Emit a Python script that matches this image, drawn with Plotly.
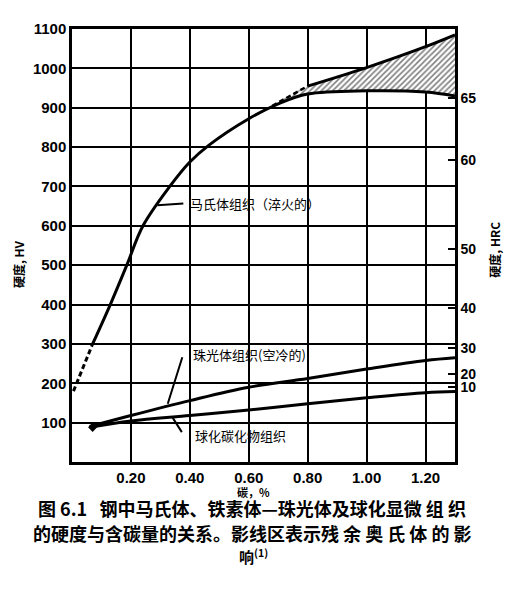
import plotly.graph_objects as go

# 马氏体组织（淬火的）
mart_x = [0.07, 0.13, 0.186, 0.241, 0.332, 0.40, 0.465, 0.60, 0.70, 0.80, 1.00, 1.20, 1.30]
mart_hv = [300, 400, 500, 600, 700, 762, 805, 872, 910, 935, 943, 940, 930]
mart_dash_x = [0.005, 0.07]
mart_dash_hv = [180, 300]

# 残余奥氏体影线区的上边界
upper_dash_x = [0.68, 0.80]
upper_dash_hv = [905, 955]
upper_x = [0.80, 1.00, 1.20, 1.30]
upper_hv = [955, 1002, 1055, 1085]

# 珠光体组织（空冷的）
pearl_x = [0.06, 0.20, 0.40, 0.60, 0.80, 1.00, 1.20, 1.30]
pearl_hv = [90, 118, 156, 190, 212, 236, 258, 265]

# 球化碳化物组织
sphe_x = [0.06, 0.20, 0.40, 0.60, 0.80, 1.00, 1.20, 1.30]
sphe_hv = [88, 104, 118, 132, 148, 163, 176, 179]

# 右侧 HRC 刻度
hrc_labels = ["10", "20", "30", "40", "50", "60", "65"]
hrc_hv = [191, 224, 289, 390, 540, 766, 925]

x_ticks = [0.2, 0.4, 0.6, 0.8, 1.0, 1.2]
hv_ticks = [100, 200, 300, 400, 500, 600, 700, 800, 900, 1000, 1100]

FONT = "Liberation Sans, Noto Sans CJK SC"
CJK = "Noto Sans CJK SC"
line = dict(color="black", width=3, shape="spline", smoothing=1.0)

fig = go.Figure()

# hatched area: lower boundary first, then upper with tonexty
hx = [x for x in mart_x if x >= 0.68]
hy = [h for x, h in zip(mart_x, mart_hv) if x >= 0.68]
fig.add_trace(go.Scatter(x=[0.68] + hx, y=[905] + hy, mode="lines",
                         line=dict(width=0, shape="spline", smoothing=1.0), hoverinfo="skip"))
fig.add_trace(go.Scatter(x=upper_dash_x + upper_x[1:], y=upper_dash_hv + upper_hv[1:],
                         mode="lines", line=dict(width=0, shape="spline", smoothing=1.0),
                         fill="tonexty", fillcolor="rgba(0,0,0,0)",
                         fillpattern=dict(shape="/", fgcolor="black", bgcolor="white",
                                          size=4, solidity=0.4),
                         hoverinfo="skip"))

fig.add_trace(go.Scatter(x=mart_x, y=mart_hv, mode="lines", line=line))
fig.add_trace(go.Scatter(x=mart_dash_x, y=mart_dash_hv, mode="lines",
                         line=dict(color="black", width=3, dash="5px,3px")))
fig.add_trace(go.Scatter(x=upper_dash_x, y=upper_dash_hv, mode="lines",
                         line=dict(color="black", width=2.5, dash="5px,3px")))
fig.add_trace(go.Scatter(x=upper_x, y=upper_hv, mode="lines", line=line))
fig.add_trace(go.Scatter(x=pearl_x, y=pearl_hv, mode="lines", line=line))
fig.add_trace(go.Scatter(x=sphe_x, y=sphe_hv, mode="lines", line=line))
fig.add_trace(go.Scatter(x=[0.07], y=[88], mode="markers",
                         marker=dict(color="black", size=7, symbol="diamond")))
# dummy trace so the HRC axis is drawn
fig.add_trace(go.Scatter(x=[0.5], y=[500], yaxis="y2", mode="markers",
                         marker=dict(opacity=0), hoverinfo="skip"))

anns = []
# label leaders (arrow from tail to curve)
for (px, py, tx, ty) in [(0.29, 652, 0.383, 657),
                         (0.325, 148, 0.376, 270),
                         (0.342, 112, 0.376, 72)]:
    anns.append(dict(x=px, y=py, ax=tx, ay=ty, axref="x", ayref="y", xref="x", yref="y",
                     text="", showarrow=True, arrowhead=0, arrowwidth=2, arrowcolor="black"))
for (tx, ty, txt) in [(0.395, 657, "马氏体组织（淬火的）"),
                      (0.405, 274, "珠光体组织(空冷的)"),
                      (0.41, 68, "球化碳化物组织")]:
    anns.append(dict(x=tx, y=ty, xref="x", yref="y", text=txt, showarrow=False,
                     xanchor="left", yanchor="middle", font=dict(family=CJK, size=13, color="black")))


def paper_text(x, y, txt, size, angle=0):
    return dict(x=x, y=y, xref="paper", yref="paper", text=txt, textangle=angle,
                xanchor="center", yanchor="middle", showarrow=False,
                font=dict(family=CJK, size=size, color="black"))


anns += [
    paper_text(-0.141, 0.457, "<b>硬度, HV</b>", 12, -90),
    paper_text(1.104, 0.49, "<b>硬度, HRC</b>", 12, -90),
    paper_text(0.473, -0.070, "<b>碳，%</b>", 11),
    paper_text(0.47, -0.106, "<b>图 6.1   钢中马氏体、铁素体—珠光体及球化显微 组 织</b>", 18),
    paper_text(0.47, -0.164, "<b>的硬度与含碳量的关系。影线区表示残 余 奥 氏 体 的 影</b>", 18),
    paper_text(0.473, -0.217, "<b>响<sup>(1)</sup></b>", 15),
]

tickf = dict(size=15, family=FONT, weight="bold", color="black")

fig.update_layout(
    width=508, height=584,
    margin=dict(l=64, r=61, t=16, b=130),
    paper_bgcolor="white", plot_bgcolor="white",
    showlegend=False,
    font=dict(family=FONT, color="black"),
    annotations=anns,
    xaxis=dict(range=[0, 1.30], tickvals=x_ticks, tickformat=".2f",
               showgrid=True, gridcolor="black", gridwidth=2,
               showline=True, linecolor="black", linewidth=2.5, mirror=True,
               zeroline=False, ticks="", tickfont=tickf,
               fixedrange=True),
    yaxis=dict(range=[0, 1100], tickvals=hv_ticks,
               showgrid=True, gridcolor="black", gridwidth=2,
               showline=True, linecolor="black", linewidth=2.5, mirror=True,
               zeroline=False, ticks="", tickfont=tickf,
               fixedrange=True),
    yaxis2=dict(range=[0, 1100], overlaying="y", side="right",
                tickvals=hrc_hv, ticktext=hrc_labels,
                showgrid=False, zeroline=False, showline=True, linecolor="black",
                linewidth=2.5, ticks="inside", ticklen=7, tickwidth=2, tickcolor="black",
                tickfont=dict(size=14, family=FONT, weight="bold", color="black"),
                fixedrange=True),
)

fig.write_html("out.html")
